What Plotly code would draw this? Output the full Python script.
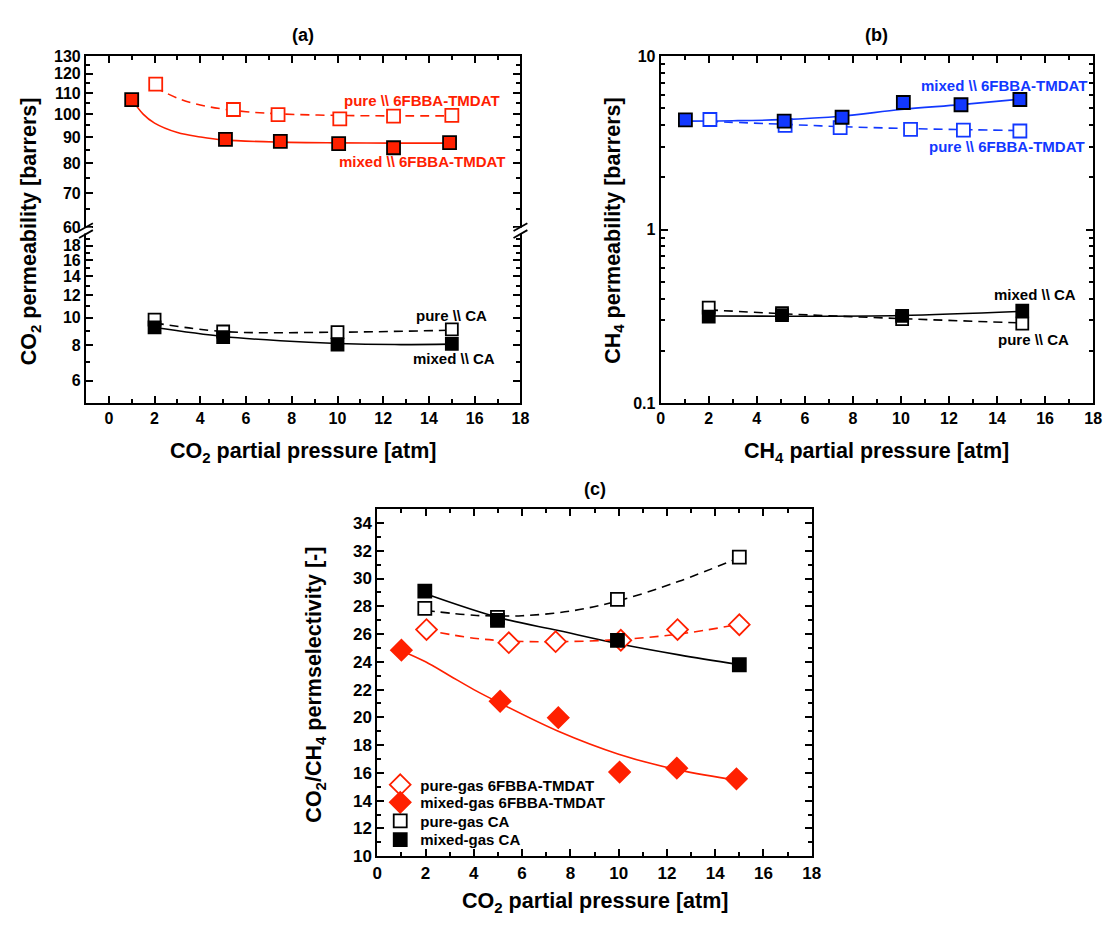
import math
import plotly.graph_objects as go

W, H = 1115, 927
RED = "#FF2000"
BLUE = "#1238FF"
BLK = "#000000"
FONT = "Liberation Sans, Arial, sans-serif"

# ---------------- Panel (a): CO2 permeability ----------------
a_x_mixed_6f = [1.0, 5.1, 7.5, 10.05, 12.45, 14.9]
a_y_mixed_6f = [106.8, 89.2, 88.4, 87.5, 85.9, 87.9]
a_x_pure_6f = [2.05, 5.45, 7.4, 10.1, 12.45, 15.0]
a_y_pure_6f = [114.5, 102.1, 99.8, 97.9, 99.1, 99.4]
a_x_ca = [2.0, 5.0, 10.0, 15.0]
a_y_mixed_ca = [9.25, 8.55, 8.05, 8.1]
a_y_pure_ca = [9.85, 8.95, 8.9, 9.1]

a_fit_mixed_6f_x = [1, 1.5, 2, 3, 4, 5, 7.5, 10, 12.5, 15]
a_fit_mixed_6f_y = [107, 100, 96, 92, 90.2, 89.0, 88.1, 87.8, 87.7, 87.7]
a_fit_pure_6f_x = [2, 3, 4, 5, 6, 7.5, 10, 12.5, 15]
a_fit_pure_6f_y = [113, 107.5, 104.2, 102.3, 101.1, 100.1, 99.4, 99.2, 99.2]
a_fit_mixed_ca_x = [2, 5, 7.5, 10, 12.5, 15]
a_fit_mixed_ca_y = [9.25, 8.6, 8.3, 8.12, 8.05, 8.08]
a_fit_pure_ca_x = [2, 5, 10, 15]
a_fit_pure_ca_y = [9.6, 8.95, 8.9, 9.05]

# ---------------- Panel (b): CH4 permeability ----------------
b_x_mixed_6f = [1.03, 5.14, 7.55, 10.1, 12.5, 14.95]
b_y_mixed_6f = [4.29, 4.22, 4.44, 5.40, 5.24, 5.62]
b_x_pure_6f = [2.05, 5.18, 7.47, 10.4, 12.6, 14.95]
b_y_pure_6f = [4.31, 3.99, 3.87, 3.78, 3.74, 3.70]
b_x_ca = [2.0, 5.05, 10.05, 15.05]
b_y_mixed_ca = [0.315, 0.322, 0.318, 0.341]
b_y_pure_ca = [0.355, 0.330, 0.305, 0.287]

b_fit_mixed_6f_x = [1, 3, 5, 7.5, 10, 12.5, 15]
b_fit_mixed_6f_y = [4.22, 4.24, 4.3, 4.5, 4.92, 5.25, 5.65]
b_fit_pure_6f_x = [2, 5, 7.5, 10, 12.5, 15]
b_fit_pure_6f_y = [4.2, 4.05, 3.92, 3.83, 3.77, 3.72]
b_fit_mixed_ca_x = [2, 5, 10, 15]
b_fit_mixed_ca_y = [0.318, 0.317, 0.32, 0.338]
b_fit_pure_ca_x = [2, 5, 10, 15]
b_fit_pure_ca_y = [0.345, 0.328, 0.307, 0.29]

# ---------------- Panel (c): CO2/CH4 permselectivity ----------------
c_x_mixed_6f = [1.0, 5.09, 7.5, 10.04, 12.41, 14.88]
c_y_mixed_6f = [24.84, 21.16, 19.98, 16.06, 16.34, 15.57]
c_x_pure_6f = [2.04, 5.45, 7.39, 10.09, 12.44, 15.0]
c_y_pure_6f = [26.32, 25.38, 25.45, 25.55, 26.32, 26.67]
c_x_ca = [1.97, 4.98, 9.95, 15.0]
c_y_pure_ca = [27.85, 27.2, 28.5, 31.54]
c_y_mixed_ca = [29.09, 26.98, 25.55, 23.79]

c_fit_mixed_6f_x = [1, 2, 3, 4, 5, 7.5, 10, 12.5, 15]
c_fit_mixed_6f_y = [24.8, 24.0, 23.0, 22.0, 21.1, 19.0, 17.35, 16.2, 15.45]
c_fit_pure_6f_x = [2, 4, 5.5, 7.5, 10, 12.5, 15]
c_fit_pure_6f_y = [26.3, 25.7, 25.5, 25.45, 25.6, 26.0, 26.7]
c_fit_pure_ca_x = [2, 4, 5, 6, 8, 10, 12.5, 15]
c_fit_pure_ca_y = [27.7, 27.35, 27.3, 27.32, 27.65, 28.4, 29.8, 31.5]
c_fit_mixed_ca_x = [2, 5, 7.5, 10, 12.5, 15]
c_fit_mixed_ca_y = [28.9, 27.2, 26.25, 25.3, 24.5, 23.8]

legend_names = ["pure-gas 6FBBA-TMDAT", "mixed-gas 6FBBA-TMDAT", "pure-gas CA", "mixed-gas CA"]


def px(x):
    return x / W


def py(y):
    return 1 - y / H


fig = go.Figure()


def fit(x, y, color, dash, xa, ya):
    fig.add_trace(go.Scatter(x=x, y=y, mode="lines", xaxis=xa, yaxis=ya,
                             line=dict(color=color, width=1.6, dash=dash, shape="spline", smoothing=1.0),
                             showlegend=False, hoverinfo="skip"))


def pts(x, y, symbol, fill, edge, size, xa, ya, name=None, legend=None):
    kw = {}
    if legend:
        kw["legend"] = legend
    fig.add_trace(go.Scatter(x=x, y=y, mode="markers", xaxis=xa, yaxis=ya, name=name,
                             marker=dict(symbol=symbol, size=size, color=fill,
                                         line=dict(color=edge, width=1.8)),
                             showlegend=bool(legend), **kw))


DASH = "9px,6px"

# (a) upper
fit(a_fit_pure_6f_x, a_fit_pure_6f_y, RED, DASH, "x2", "y2")
fit(a_fit_mixed_6f_x, a_fit_mixed_6f_y, RED, "solid", "x2", "y2")
pts(a_x_pure_6f, a_y_pure_6f, "square", "white", RED, 13, "x2", "y2")
pts(a_x_mixed_6f, a_y_mixed_6f, "square", RED, BLK, 13, "x2", "y2")
# (a) lower
fit(a_fit_pure_ca_x, a_fit_pure_ca_y, BLK, DASH, "x", "y")
fit(a_fit_mixed_ca_x, a_fit_mixed_ca_y, BLK, "solid", "x", "y")
pts(a_x_ca, a_y_pure_ca, "square", "white", BLK, 12, "x", "y")
pts(a_x_ca, a_y_mixed_ca, "square", BLK, BLK, 12, "x", "y")

# (b)
fit(b_fit_pure_6f_x, b_fit_pure_6f_y, BLUE, DASH, "x3", "y3")
fit(b_fit_mixed_6f_x, b_fit_mixed_6f_y, BLUE, "solid", "x3", "y3")
fit(b_fit_pure_ca_x, b_fit_pure_ca_y, BLK, DASH, "x3", "y3")
fit(b_fit_mixed_ca_x, b_fit_mixed_ca_y, BLK, "solid", "x3", "y3")
pts(b_x_pure_6f, b_y_pure_6f, "square", "white", BLUE, 13, "x3", "y3")
pts(b_x_mixed_6f, b_y_mixed_6f, "square", BLUE, BLK, 13, "x3", "y3")
pts(b_x_ca, b_y_pure_ca, "square", "white", BLK, 12, "x3", "y3")
pts(b_x_ca, b_y_mixed_ca, "square", BLK, BLK, 12, "x3", "y3")

# (c)
fit(c_fit_pure_ca_x, c_fit_pure_ca_y, BLK, DASH, "x4", "y4")
fit(c_fit_mixed_ca_x, c_fit_mixed_ca_y, BLK, "solid", "x4", "y4")
fit(c_fit_pure_6f_x, c_fit_pure_6f_y, RED, DASH, "x4", "y4")
fit(c_fit_mixed_6f_x, c_fit_mixed_6f_y, RED, "solid", "x4", "y4")
pts(c_x_pure_6f, c_y_pure_6f, "diamond", "white", RED, 16, "x4", "y4", legend_names[0], "legend")
pts(c_x_mixed_6f, c_y_mixed_6f, "diamond", RED, RED, 16, "x4", "y4", legend_names[1], "legend2")
pts(c_x_ca, c_y_pure_ca, "square", "white", BLK, 13, "x4", "y4", legend_names[2], "legend3")
pts(c_x_ca, c_y_mixed_ca, "square", BLK, BLK, 13, "x4", "y4", legend_names[3], "legend4")

tickfont = dict(family=FONT, size=16, color="black", weight="bold")
tickfont_c = dict(family=FONT, size=17, color="black", weight="bold")
base = dict(showline=True, linecolor="black", linewidth=2, ticks="inside", ticklen=7,
            tickwidth=2, tickcolor="black", showgrid=False, zeroline=False)
common = dict(base, tickfont=tickfont)
common_c = dict(base, tickfont=tickfont_c)

# domains in pixels
A_L, A_R = 82, 522
B_L, B_R = 664, 1102
C_L, C_R = 377, 817
TOP, BOT = 49, 403
BRK_U, BRK_L = 225, 229
C_T, C_B = 511, 865

LEG_ROWS = [792, 810, 829, 848]
leg_font = dict(family=FONT, size=15, color="black", weight="bold")


def leg(row):
    return dict(x=px(380), y=py(row - 16.5), xanchor="left", yanchor="top", bgcolor="rgba(0,0,0,0)",
                font=leg_font, itemwidth=30)


fig.update_layout(
    width=W, height=H, margin=dict(l=0, r=0, t=0, b=0),
    paper_bgcolor="white", plot_bgcolor="white",
    font=dict(family=FONT, color="black"),
    xaxis=dict(domain=[px(A_L), px(A_R)], anchor="y", range=[-1, 18], tick0=0, dtick=2,
               minor=dict(ticks="inside", ticklen=4, tickwidth=2, dtick=1, tick0=0, tickcolor="black"),
               mirror=False, **common),
    xaxis2=dict(domain=[px(A_L), px(A_R)], anchor="y2", matches="x", side="top", range=[-1, 18],
                tick0=0, dtick=2, showticklabels=False,
                minor=dict(ticks="inside", ticklen=4, tickwidth=2, dtick=1, tick0=0, tickcolor="black"),
                mirror=False, **common),
    yaxis=dict(domain=[py(BOT), py(BRK_L)], anchor="x", type="log",
               range=[math.log10(5), math.log10(20)],
               tickvals=[6, 8, 10, 12, 14, 16, 18], ticktext=["6", "8", "10", "12", "14", "16", "18"],
               minor=dict(ticks="inside", ticklen=4, tickwidth=2, tickcolor="black",
                          tickvals=[5, 7, 9, 11, 13, 15, 17, 19]),
               mirror="allticks", **common),
    yaxis2=dict(domain=[py(BRK_U), py(TOP)], anchor="x2", type="log",
                range=[math.log10(59.6), math.log10(130)],
                tickvals=[60, 70, 80, 90, 100, 110, 120, 130],
                ticktext=["60", "70", "80", "90", "100", "110", "120", "130"],
                minor=dict(ticks="inside", ticklen=4, tickwidth=2, tickcolor="black",
                           tickvals=[65, 75, 85, 95, 105, 115, 125]),
                mirror="allticks", **common),
    xaxis3=dict(domain=[px(B_L), px(B_R)], anchor="y3", range=[0, 18], tick0=0, dtick=2,
                minor=dict(ticks="inside", ticklen=4, tickwidth=2, dtick=1, tick0=0, tickcolor="black"),
                mirror="allticks", **common),
    yaxis3=dict(domain=[py(BOT), py(TOP)], anchor="x3", type="log", range=[-1, 1],
                tickvals=[0.1, 1, 10], ticktext=["0.1", "1", "10"],
                minor=dict(ticks="inside", ticklen=4, tickwidth=2, tickcolor="black",
                           tickvals=[0.2, 0.3, 0.4, 0.5, 0.6, 0.7, 0.8, 0.9, 2, 3, 4, 5, 6, 7, 8, 9]),
                mirror="allticks", **common),
    xaxis4=dict(domain=[px(C_L), px(C_R)], anchor="y4", range=[0, 18], tick0=0, dtick=2,
                minor=dict(ticks="inside", ticklen=4, tickwidth=2, dtick=1, tick0=0, tickcolor="black"),
                mirror="allticks", **common_c),
    yaxis4=dict(domain=[py(C_B), py(C_T)], anchor="x4", range=[10, 35], tick0=10, dtick=2,
                minor=dict(ticks="inside", ticklen=4, tickwidth=2, dtick=1, tick0=10, tickcolor="black"),
                mirror="allticks", **common_c),
    legend=leg(LEG_ROWS[0]),
    legend2=leg(LEG_ROWS[1]),
    legend3=leg(LEG_ROWS[2]),
    legend4=leg(LEG_ROWS[3]),
)

ann = []


def text(x, y, s, size, color="black", xref="paper", yref="paper", angle=0, xanchor="center"):
    ann.append(dict(x=x, y=y, xref=xref, yref=yref, text=s, showarrow=False, textangle=angle,
                    xanchor=xanchor, yanchor="middle",
                    font=dict(family=FONT, size=size, color=color, weight="bold")))


TS = 21.5
# panel titles
text(px((A_L + A_R) / 2), py(28), "(a)", 18)
text(px((B_L + B_R) / 2), py(28), "(b)", 18)
text(px((C_L + C_R) / 2), py(491), "(c)", 18)
# axis titles
text(px((A_L + A_R) / 2), py(453), "CO<sub>2</sub> partial pressure [atm]", TS)
text(px(26), py(228), "CO<sub>2</sub> permeability [barrers]", TS, angle=-90)
text(px((B_L + B_R) / 2), py(453), "CH<sub>4</sub> partial pressure [atm]", TS)
text(px(617), py(227), "CH<sub>4</sub> permeability [barrers]", TS, angle=-90)
text(px((C_L + C_R) / 2), py(912), "CO<sub>2</sub> partial pressure [atm]", TS)
text(px(315), py(690), "CO<sub>2</sub>/CH<sub>4</sub> permselectivity [-]", TS, angle=-90)
# series labels
AS = 15
text(13.7, math.log10(106.3), "pure \\\\ 6FBBA-TMDAT", AS, RED, "x2", "y2")
text(13.7, math.log10(80.6), "mixed \\\\ 6FBBA-TMDAT", AS, RED, "x2", "y2")
text(15.0, math.log10(10.2), "pure \\\\ CA", AS, BLK, "x", "y")
text(15.1, math.log10(7.16), "mixed \\\\ CA", AS, BLK, "x", "y")
text(14.3, math.log10(6.8), "mixed \\\\ 6FBBA-TMDAT", AS, BLUE, "x3", "y3")
text(14.4, math.log10(3.03), "pure \\\\ 6FBBA-TMDAT", AS, BLUE, "x3", "y3")
text(15.6, math.log10(0.42), "mixed \\\\ CA", AS, BLK, "x3", "y3")
text(15.5, math.log10(0.233), "pure \\\\ CA", AS, BLK, "x3", "y3")
fig.update_layout(annotations=ann)

# axis-break marks on panel (a)
shapes = []
ymid = (BRK_U + BRK_L) / 2
for xs in (A_L, A_R):
    shapes.append(dict(type="rect", xref="paper", yref="paper", x0=px(xs - 6), x1=px(xs + 6),
                       y0=py(ymid + 3), y1=py(ymid - 3), fillcolor="white", line=dict(width=0)))
    for dy in (-3.5, 3.5):
        shapes.append(dict(type="line", xref="paper", yref="paper",
                           x0=px(xs - 7), y0=py(ymid + dy + 4), x1=px(xs + 7), y1=py(ymid + dy - 4),
                           line=dict(color="black", width=1.8)))
fig.update_layout(shapes=shapes)

fig.write_html("out.html")
